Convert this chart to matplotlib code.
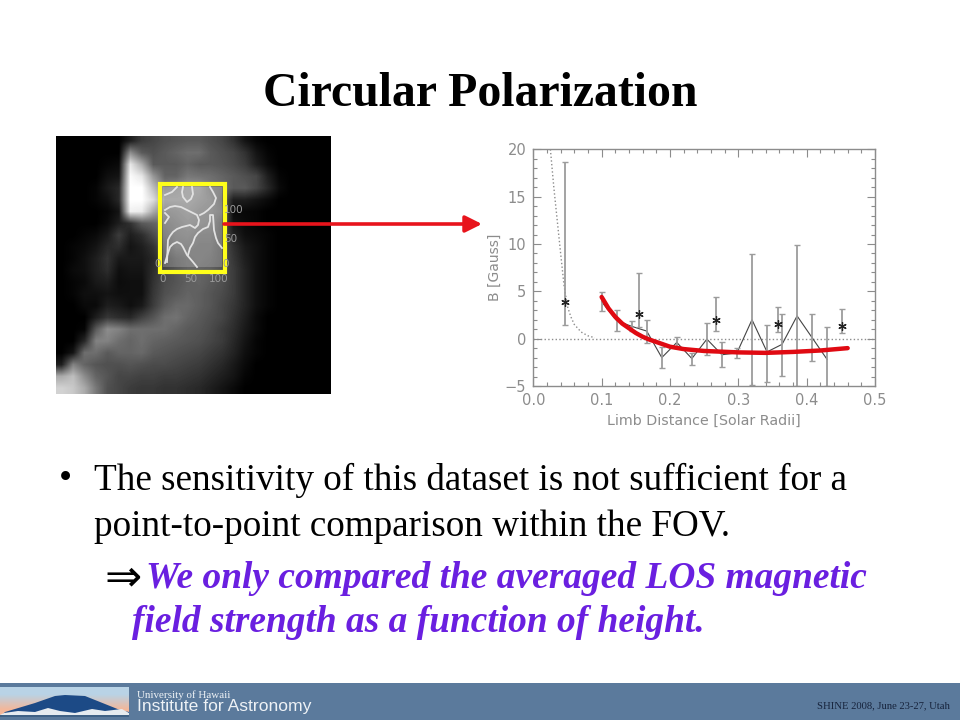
import numpy as np
import matplotlib
matplotlib.use("Agg")
import matplotlib.pyplot as plt
from matplotlib.patches import Rectangle, Polygon

# binned points, joined by the thin line
limb = [0.100, 0.122, 0.144, 0.166, 0.188, 0.210, 0.232, 0.254, 0.276, 0.298, 0.320, 0.342, 0.364, 0.386, 0.408, 0.430]
field = [3.9, 1.9, 1.3, 0.8, -2.0, -0.4, -2.1, -0.05, -1.7, -1.5, 2.0, -1.4, -0.6, 2.4, 0.1, -2.2]
err_low = [2.9, 0.8, 0.8, -0.5, -3.1, -1.0, -2.8, -1.7, -3.0, -2.0, -4.9, -4.6, -3.9, -5.0, -2.4, -5.0]
err_high = [4.9, 3.0, 1.9, 2.0, -0.9, 0.2, -1.5, 1.7, -0.4, -1.0, 8.9, 1.4, 2.6, 9.9, 2.6, 1.2]

# asterisk points
star_limb = [0.047, 0.154, 0.268, 0.358, 0.452]
star_field = [3.85, 2.6, 2.0, 1.6, 1.35]
star_low = [1.4, 1.2, 0.8, 0.7, 0.6]
star_high = [18.7, 6.9, 4.4, 3.3, 3.1]

# dotted model curve
dot_limb = [0.025, 0.03, 0.035, 0.04, 0.045, 0.05, 0.055, 0.06, 0.07, 0.08, 0.09]
dot_field = [20, 16, 12.5, 9, 5.6, 3.4, 2.3, 1.5, 0.7, 0.3, 0.1]

# red fit
fit_limb = [0.10, 0.11, 0.12, 0.13, 0.14, 0.15, 0.16, 0.17, 0.18, 0.20, 0.22, 0.25, 0.30, 0.34, 0.38, 0.42, 0.46]
fit_field = [4.4, 3.2, 2.3, 1.6, 1.1, 0.6, 0.2, -0.1, -0.35, -0.85, -1.1, -1.3, -1.45, -1.5, -1.4, -1.25, -1.0]

# coarse brightness of the coronal picture
corona = [
    [0, 0, 0, 0, 0, 0, 30, 60, 70, 80, 85, 90, 90, 80, 70, 50, 20, 5, 0, 0, 0, 0, 0, 0],
    [0, 0, 0, 0, 0, 0, 140, 90, 80, 90, 100, 110, 110, 90, 80, 70, 50, 20, 5, 0, 0, 0, 0, 0],
    [0, 0, 0, 0, 5, 10, 230, 170, 90, 90, 90, 100, 90, 90, 85, 75, 60, 30, 10, 0, 0, 0, 0, 0],
    [0, 0, 0, 0, 15, 20, 250, 230, 150, 100, 100, 120, 115, 110, 100, 90, 80, 70, 30, 5, 0, 0, 0, 0],
    [0, 0, 0, 5, 25, 40, 255, 255, 190, 130, 140, 150, 150, 120, 110, 90, 90, 70, 40, 10, 0, 0, 0, 0],
    [0, 0, 0, 5, 15, 40, 255, 255, 220, 150, 150, 150, 140, 130, 100, 30, 30, 20, 10, 0, 0, 0, 0, 0],
    [0, 0, 0, 0, 5, 20, 240, 235, 170, 125, 130, 140, 130, 125, 110, 10, 8, 5, 0, 0, 0, 0, 0, 0],
    [0, 0, 0, 0, 10, 30, 50, 90, 100, 110, 120, 130, 125, 120, 90, 20, 10, 5, 0, 0, 0, 0, 0, 0],
    [0, 0, 5, 10, 25, 60, 30, 45, 75, 100, 115, 120, 110, 110, 90, 35, 15, 10, 5, 0, 0, 0, 0, 0],
    [0, 5, 10, 20, 40, 45, 20, 30, 50, 85, 110, 110, 105, 105, 85, 50, 25, 15, 5, 0, 0, 0, 0, 0],
    [0, 5, 15, 30, 50, 25, 25, 25, 40, 70, 90, 100, 105, 100, 85, 55, 30, 15, 5, 0, 0, 0, 0, 0],
    [0, 10, 15, 30, 45, 15, 20, 20, 45, 70, 85, 100, 100, 95, 80, 60, 35, 15, 5, 0, 0, 0, 0, 0],
    [0, 5, 10, 25, 30, 12, 15, 15, 50, 75, 85, 95, 100, 90, 80, 60, 35, 15, 5, 0, 0, 0, 0, 0],
    [0, 5, 15, 15, 20, 15, 15, 15, 55, 80, 90, 100, 95, 85, 75, 60, 35, 15, 5, 0, 0, 0, 0, 0],
    [0, 0, 10, 10, 30, 25, 15, 25, 60, 90, 105, 105, 95, 85, 70, 55, 35, 15, 5, 0, 0, 0, 0, 0],
    [0, 0, 0, 30, 55, 45, 40, 65, 85, 110, 115, 100, 90, 80, 70, 50, 30, 10, 0, 0, 0, 0, 0, 0],
    [0, 0, 5, 90, 140, 130, 110, 110, 110, 110, 100, 90, 85, 75, 60, 45, 25, 10, 0, 0, 0, 0, 0, 0],
    [0, 0, 40, 130, 130, 110, 100, 110, 100, 95, 90, 85, 80, 70, 60, 40, 20, 5, 0, 0, 0, 0, 0, 0],
    [0, 20, 110, 110, 90, 100, 100, 105, 90, 85, 80, 75, 70, 60, 50, 35, 15, 5, 0, 0, 0, 0, 0, 0],
    [30, 130, 100, 85, 80, 80, 85, 80, 75, 75, 70, 65, 60, 50, 40, 25, 10, 0, 0, 0, 0, 0, 0, 0],
    [170, 190, 140, 100, 85, 70, 70, 65, 65, 60, 60, 55, 50, 40, 30, 20, 5, 0, 0, 0, 0, 0, 0, 0],
    [210, 200, 170, 120, 80, 70, 60, 55, 55, 50, 50, 45, 40, 30, 20, 10, 0, 0, 0, 0, 0, 0, 0, 0],
]

# contours over the picture, in slide pixels
contours = [
    [(165, 195), (172, 192), (177, 187)],
    [(183, 187), (182, 192), (183, 197), (187, 202), (191, 199), (193, 194), (192, 187)],
    [(165, 210), (170, 207), (175, 206), (181, 207), (187, 210), (193, 213), (197, 215), (199, 220), (198, 225), (195, 228), (190, 225), (182, 227), (177, 229), (173, 232), (170, 236), (168, 240), (167, 262)],
    [(210, 187), (213, 192), (216, 198), (214, 204), (208, 210), (204, 213), (200, 215)],
    [(165, 213), (169, 217), (165, 223)],
    [(165, 263), (168, 253), (170, 247), (173, 244), (177, 242), (181, 244), (183, 247), (187, 255), (193, 262), (197, 267)],
    [(188, 255), (190, 248), (193, 243), (195, 237), (198, 233), (203, 229), (208, 227), (210, 221), (210, 215), (213, 215), (214, 230), (216, 238), (218, 243), (222, 248)],
]

title_text = "Circular Polarization"
body_lines = ["The sensitivity of this dataset is not sufficient for a", "point-to-point comparison within the FOV."]
emph_lines = ["We only compared the averaged LOS magnetic", "field strength as a function of height."]

SERIF = "Liberation Serif"
GREY = "#8c8c8c"
PURPLE = "#6a1fe0"

fig = plt.figure(figsize=(9.6, 7.2), dpi=100, facecolor="white")


def px_axes(x0, y0, x1, y1):
    return fig.add_axes([x0 / 960, 1 - y1 / 720, (x1 - x0) / 960, (y1 - y0) / 720])


# coronal picture
im_ax = px_axes(56, 136, 331, 394)
im_ax.imshow(corona, cmap="gray", vmin=0, vmax=255, aspect="auto", interpolation="bilinear")
im_ax.axis("off")

# slide layer
ax = fig.add_axes([0, 0, 1, 1], facecolor="none")
ax.set_xlim(0, 960)
ax.set_ylim(720, 0)
ax.axis("off")

ax.text(480, 94, title_text, family=SERIF, weight="bold", fontsize=34.4, ha="center", va="center", color="black")

# inset box with contours
ax.add_patch(Rectangle((163, 187), 59, 80, facecolor="white", alpha=0.2, edgecolor="none"))
for c in contours:
    xs, ys = zip(*c)
    ax.plot(xs, ys, color="#e2e2e2", lw=1.3, solid_joinstyle="round")
ax.add_patch(Rectangle((160, 184), 65, 88, fill=False, edgecolor="#ffff1a", lw=3))
for x, y, s in [(163, 279, "0"), (191, 279, "50"), (219, 279, "100"), (234, 210, "100"), (231, 239, "50"), (158, 264, "0"), (226, 264, "0")]:
    ax.text(x, y, s, color="#9a9a9a", fontsize=7.5, ha="center", va="center")

# red arrow
ax.annotate("", xy=(482, 224), xytext=(224, 224),
            arrowprops=dict(arrowstyle="-|>,head_length=1.0,head_width=0.5", color="#e8141c", lw=2.6, shrinkA=0, shrinkB=0))

# body text
ax.text(59, 480, "•", family=SERIF, fontsize=26.7, va="center", color="black")
for y, s in zip([480, 527], body_lines):
    ax.text(94, y, s, family=SERIF, fontsize=26.7, va="center", color="black")
ax.text(104, 578, "⇒", family="DejaVu Sans", fontsize=32, va="center", color="black")
for x, y, s in zip([146, 132], [579, 623], emph_lines):
    ax.text(x, y, s, family=SERIF, weight="bold", style="italic", fontsize=26.9, va="center", color=PURPLE)

# footer band and logo
ax.add_patch(Rectangle((0, 683), 960, 37, facecolor="#5b7a9c", edgecolor="none"))
sky = [[0.0], [1.0]]
logo_ax = px_axes(0, 687, 129, 717)
logo_ax.imshow(sky, cmap=matplotlib.colors.LinearSegmentedColormap.from_list("sky", ["#b9d3e6", "#f3b79a"]), aspect="auto", interpolation="bilinear", extent=(0, 129, 717, 687))
logo_ax.add_patch(Polygon([(5, 712), (35, 703), (55, 696), (65, 695), (85, 696), (100, 702), (120, 710), (129, 712), (129, 717), (0, 717)], facecolor="#1c4a86", edgecolor="none"))
logo_ax.add_patch(Polygon([(4, 713), (18, 711), (35, 712), (48, 708), (60, 711), (75, 713), (92, 709), (105, 711), (122, 709), (129, 713), (129, 715), (0, 715)], facecolor="#e6ebef", edgecolor="none"))
logo_ax.add_patch(Rectangle((0, 715), 129, 2, facecolor="#3f6185", edgecolor="none"))
logo_ax.set_xlim(0, 129)
logo_ax.set_ylim(717, 687)
logo_ax.axis("off")
ax.text(137, 695, "University of Hawaii", family=SERIF, fontsize=7.9, va="center", color="#eef2f6")
ax.text(137, 707, "Institute for Astronomy", family="Liberation Sans", fontsize=12.6, va="center", color="#eef2f6")
ax.text(950, 706, "SHINE 2008, June 23-27, Utah", family=SERIF, fontsize=7.7, ha="right", va="center", color="#16233c")

# the plot
pl = px_axes(533.3, 149.3, 875, 386)
pl.set_xlim(0, 0.5)
pl.set_ylim(-5, 20)
pl.axhline(0, color=GREY, lw=1, ls=":")
pl.plot(dot_limb, dot_field, color=GREY, lw=1, ls=":")
pl.plot(limb, field, color="#444444", lw=0.8)
yerr = [np.array(field) - np.array(err_low), np.array(err_high) - np.array(field)]
pl.errorbar(limb, field, yerr=yerr, fmt="none", ecolor="#9c9c9c", elinewidth=1.3, capsize=2.2, capthick=1)
star_err = [np.array(star_field) - np.array(star_low), np.array(star_high) - np.array(star_field)]
pl.errorbar(star_limb, star_field, yerr=star_err, fmt="none", ecolor="#9c9c9c", elinewidth=1.3, capsize=2.2, capthick=1)
pl.plot(star_limb, star_field, ls="none", marker=(6, 2, 0), ms=6, mew=0.9, color="#222222")
pl.plot(fit_limb, fit_field, color="#e00a12", lw=3.2, solid_capstyle="round", zorder=5)

pl.set_xticks([0.0, 0.1, 0.2, 0.3, 0.4, 0.5])
pl.set_xticklabels(["0.0", "0.1", "0.2", "0.3", "0.4", "0.5"])
pl.set_yticks([-5, 0, 5, 10, 15, 20])
pl.set_yticklabels(["\u22125", "0", "5", "10", "15", "20"])
pl.set_xticks(np.arange(0, 0.501, 0.02), minor=True)
pl.set_yticks(np.arange(-5, 20.1, 1), minor=True)
pl.tick_params(which="major", direction="in", top=True, right=True, length=6, width=0.8, color=GREY, labelcolor=GREY, labelsize=10.5, pad=5)
pl.tick_params(which="minor", direction="in", top=True, right=True, length=3, width=0.8, color=GREY)
pl.set_xlabel("Limb Distance [Solar Radii]", color=GREY, fontsize=10.3, labelpad=4)
pl.set_ylabel("B [Gauss]", color=GREY, fontsize=10, labelpad=2)
for s in pl.spines.values():
    s.set_color(GREY)
    s.set_linewidth(1)
pl.patch.set_alpha(0)

fig.savefig("out.png", dpi=100)
